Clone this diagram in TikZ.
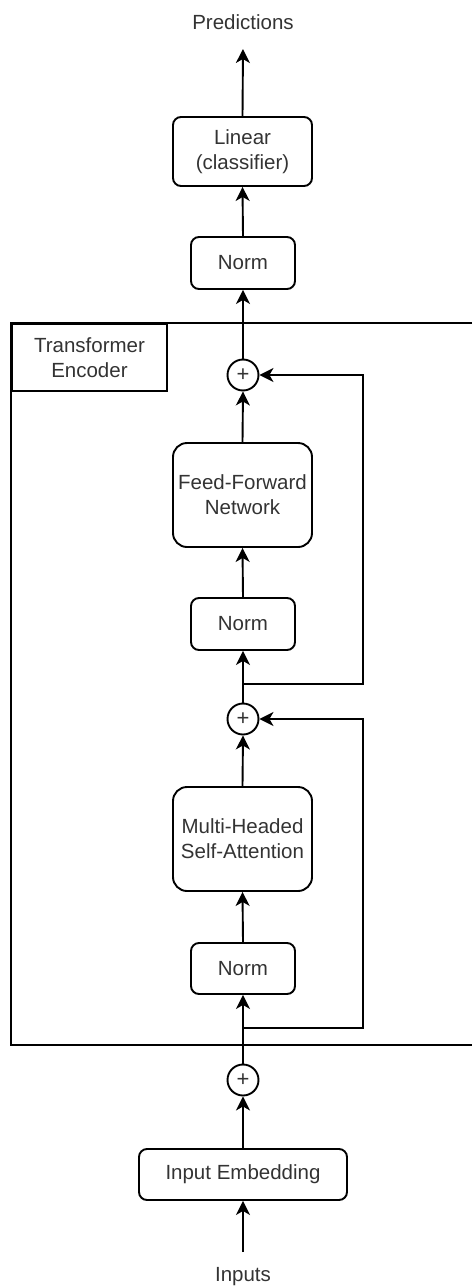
\documentclass[tikz,border=0pt]{standalone}
\usepackage{fontspec}
\setmainfont{Liberation Sans}
\usetikzlibrary{arrows.meta}
\definecolor{txt}{HTML}{333333}
\tikzset{
  box/.style={draw=black, line width=1.9pt, rounded corners=8pt, inner sep=0pt, align=center, text=txt, font=\fontsize{20.5}{25}\selectfont},
  bigbox/.style={box, rounded corners=14pt},
  plus/.style={draw=black, circle, line width=1.9pt, minimum size=31pt, inner sep=0pt, text=txt, font=\fontsize{22}{22}\selectfont},
  lbl/.style={text=txt, font=\fontsize{20.5}{25}\selectfont, align=center, inner sep=0pt},
  conn/.style={line width=1.9pt, -{Stealth[length=14pt,width=14pt,inset=4pt]}},
  line/.style={line width=1.9pt}
}
\begin{document}
\begin{tikzpicture}[x=1pt,y=-1pt]
\useasboundingbox (0,0) rectangle (472,1287);
% outer encoder frame (right side beyond the picture)
\draw[line] (472,323) -- (11,323) -- (11,1045) -- (472,1045);
\node[draw=black, line width=1.9pt, minimum width=155pt, minimum height=67pt, inner sep=0pt, anchor=north west, lbl] (enc) at (11,323) {Transformer\\Encoder};

\node[lbl] (pred) at (243,22) {Predictions};
\node[box, minimum width=139pt, minimum height=69pt] (lin) at (242.5,151.5) {Linear\\(classifier)};
\node[box, minimum width=104pt, minimum height=52pt] (normT) at (243,263) {Norm};
\node[plus] (plusT) at (243,375) {+};
\node[bigbox, minimum width=139pt, minimum height=104pt] (ffn) at (242.5,495) {Feed-Forward\\Network};
\node[box, minimum width=104pt, minimum height=52pt] (normM) at (243,624) {Norm};
\node[plus] (plusM) at (243,719) {+};
\node[bigbox, minimum width=139pt, minimum height=104pt] (mhsa) at (242.5,839) {Multi-Headed\\Self-Attention};
\node[box, minimum width=104pt, minimum height=51pt] (normB) at (243,968.5) {Norm};
\node[plus] (plusB) at (243,1080) {+};
\node[box, minimum width=208pt, minimum height=51pt] (emb) at (243,1174.5) {Input Embedding};
\node[lbl] (inp) at (243,1277) {Inputs};

\coordinate (inpstart) at (243,1252);
\coordinate (predend) at (243,49);
\coordinate (br1) at (243,684);
\coordinate (br2) at (243,1028);

\draw[conn] (inpstart) -- (emb.south);
\draw[conn] (emb.north) -- (plusB.south);
\draw[conn] (plusB.north) -- (normB.south);
\draw[conn] (normB.north) -- (mhsa.south);
\draw[conn] (mhsa.north) -- (plusM.south);
\draw[conn] (plusM.north) -- (normM.south);
\draw[conn] (normM.north) -- (ffn.south);
\draw[conn] (ffn.north) -- (plusT.south);
\draw[conn] (plusT.north) -- (normT.south);
\draw[conn] (normT.north) -- (lin.south);
\draw[conn] (lin.north) -- (predend);

\draw[conn] (br2) -- (363,1028) -- (363,719) -- (plusM.east);
\draw[conn] (br1) -- (363,684) -- (363,375) -- (plusT.east);
\end{tikzpicture}
\end{document}
